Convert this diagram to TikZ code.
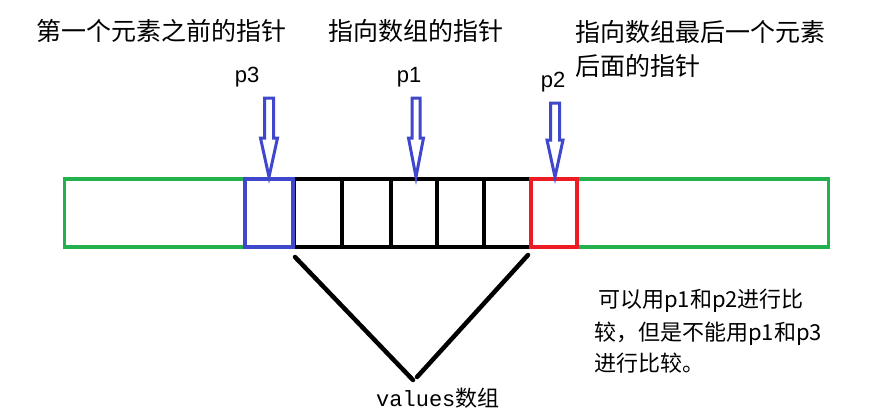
\documentclass[tikz,border=0pt]{standalone}
\usepackage{fontspec}
\newfontfamily\cjk{Noto Sans CJK SC}
\newfontfamily\lsans{Liberation Sans}
\newfontfamily\lmono{Liberation Mono}
\usetikzlibrary{calc}
\definecolor{pgreen}{RGB}{34,177,76}
\definecolor{pblue}{RGB}{63,72,204}
\definecolor{pred}{RGB}{237,28,36}
\newcommand\ptrarrow[6]{% tip, head half width, head length, shaft half width, shaft length, name
  \draw[ptrshape] (#1) -- ++(-#2,-#3) -- ++(#2-#4,0) -- ++(0,-#5) -- ++(2*#4,0) -- ++(0,#5) -- ++(#2-#4,0) -- cycle;
}
\begin{document}
\begin{tikzpicture}[x=1pt,y=-1pt,
  framebox/.style={draw=pgreen, line width=3.5pt, minimum width=764pt, minimum height=68pt, inner sep=0pt, outer sep=0pt},
  cellbox/.style={draw=black, line width=4.5pt, minimum height=68pt, inner sep=0pt, outer sep=0pt},
  bluebox/.style={cellbox, draw=pblue, line width=3.5pt},
  redbox/.style={cellbox, draw=pred, line width=3.5pt},
  ptrshape/.style={draw=pblue, line width=3pt, line join=miter, fill=white},
  toptext/.style={font=\cjk\fontsize{25}{25}\selectfont, inner sep=0pt, anchor=base west},
  notetext/.style={font=\cjk\fontsize{22}{22}\selectfont, inner sep=0pt, anchor=base west},
  plabel/.style={font=\lsans\fontsize{22}{22}\selectfont, inner sep=0pt, anchor=base},
  brace/.style={draw=black, line width=4.5pt, line cap=round}
]
\useasboundingbox (0,0) rectangle (888,415);

% outer green strip
\node[framebox] (strip) at (446.5,213) {};
% black cells
\node[cellbox, minimum width=48pt] (b1) at (318,213) {};
\node[cellbox, minimum width=49pt] (b2) at (366.5,213) {};
\node[cellbox, minimum width=46pt] (b3) at (414,213) {};
\node[cellbox, minimum width=47pt] (b4) at (460.5,213) {};
\node[cellbox, minimum width=47pt] (b5) at (507.5,213) {};
% blue and red cells
\node[bluebox, minimum width=48pt] (bp3) at (269,213) {};
\node[redbox, minimum width=46pt] (bp2) at (554,213) {};

% pointer arrows
\coordinate (t3) at ($(bp3.north)+(0,-2)$);
\coordinate (t1) at ($(b3.north)+(2,-2)$);
\coordinate (t2) at ($(bp2.north)+(1,-2)$);
\ptrarrow{t3}{8.5}{39}{4.5}{40}{a3}
\ptrarrow{t1}{7.5}{39}{4}{40}{a1}
\ptrarrow{t2}{8}{37}{4.5}{37}{a2}

% pointer labels
\node[plabel] (lp3) at (247,82) {p3};
\node[plabel] (lp1) at (409,82) {p1};
\node[plabel] (lp2) at (553,87) {p2};

% top texts
\node[toptext] (n3) at (36,40) {第一个元素之前的指针};
\node[toptext] (n1) at (328,40) {指向数组的指针};
\node[toptext] (n2a) at (575,41) {指向数组最后一个元素};
\node[toptext] (n2b) at (575,75) {后面的指针};

% note
\node[notetext] (note1) at (598,307) {可以用p1和p2进行比};
\node[notetext] (note2) at (594,340) {较，但是不能用p1和p3};
\node[notetext] (note3) at (594,371) {进行比较。};

% values label and lines
\node[inner sep=0pt, anchor=base west] (vals) at (376,406) {\lmono\fontsize{22}{22}\selectfont values\cjk\fontsize{22}{22}\selectfont 数组};
\coordinate (vl) at ($(b1.south west)+(1,10)$);
\coordinate (vr) at ($(b5.south east)+(-3,8)$);
\coordinate (vbl) at (413,380);
\coordinate (vbr) at (417,377);
\draw[brace] (vl) -- (vbl);
\draw[brace] (vr) -- (vbr);
\end{tikzpicture}
\end{document}
